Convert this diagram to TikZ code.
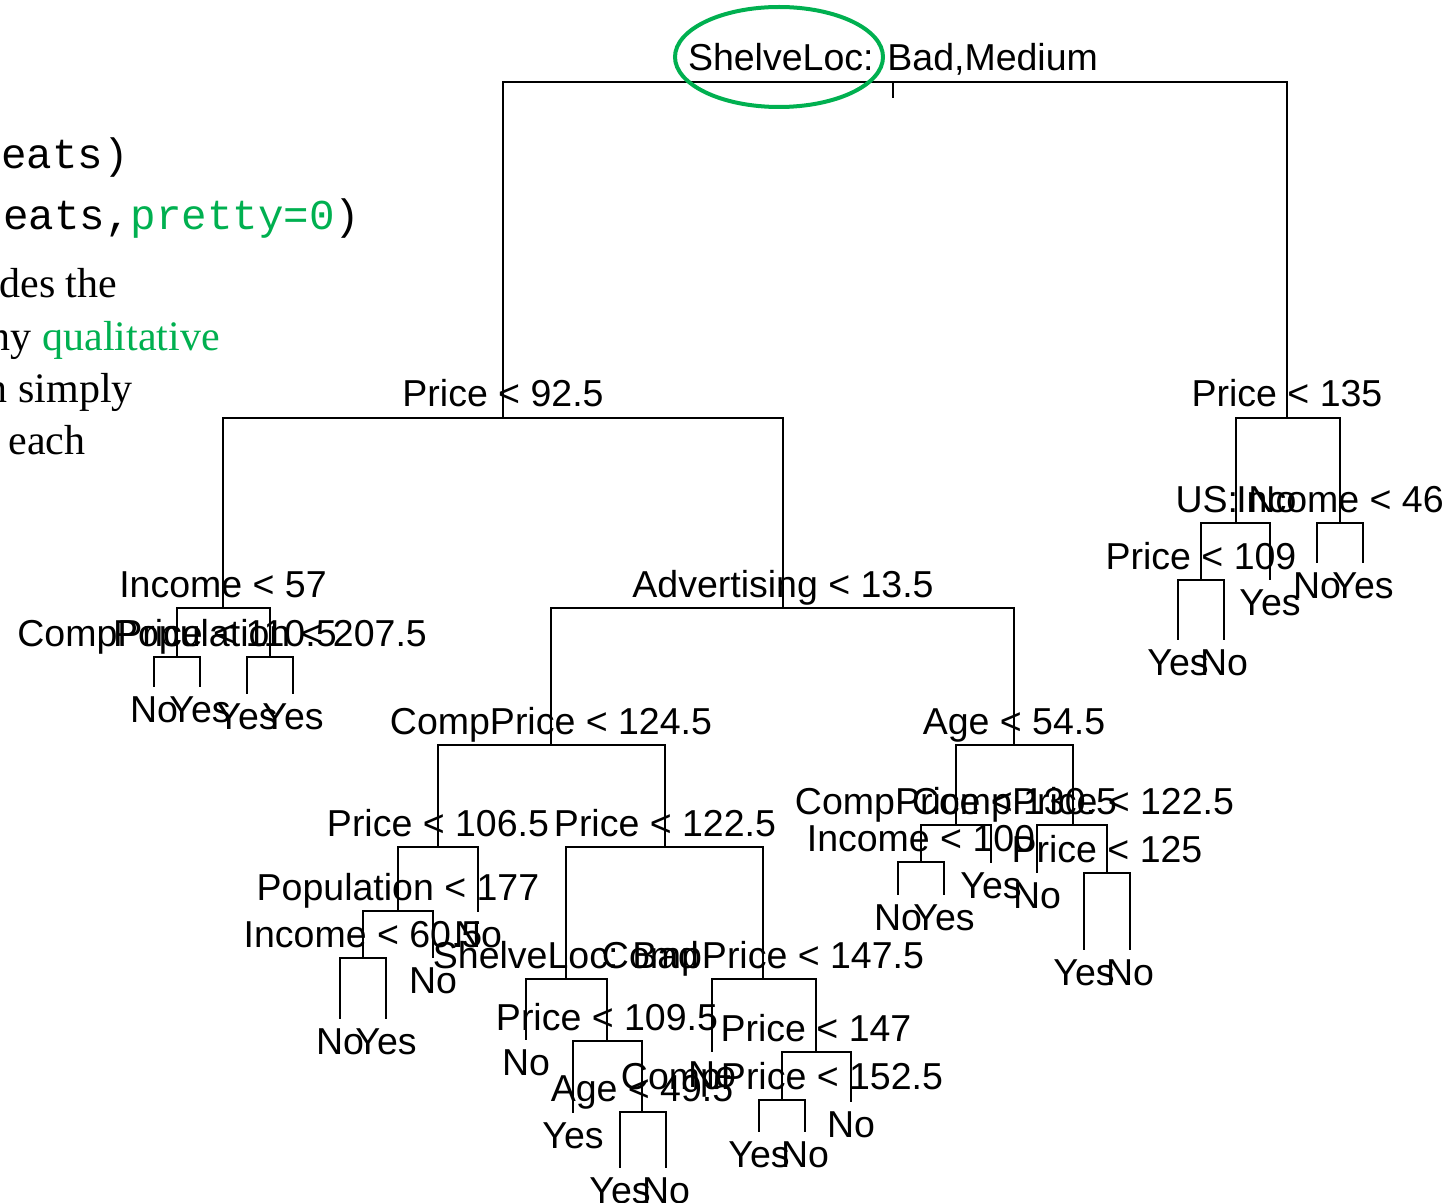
\documentclass[tikz,border=0pt]{standalone}
\usepackage{fontspec}
\setmainfont{Liberation Serif}
\setsansfont{Liberation Sans}
\setmonofont{Liberation Mono}
\usetikzlibrary{shapes.geometric}
\definecolor{slidegreen}{HTML}{00B050}
\newcommand\TSplit[4]{\coordinate (#1) at (#2,#3); \node[lab] (#1-t) at (#2,#3-11) {#4};}
\newcommand\TLeaf[4]{\coordinate (#1) at (#2,#3); \node[lab] (#1-t) at (#2,#3+35) {#4};}
\begin{document}
\begin{tikzpicture}[x=0.5pt,y=-0.5pt,
  lab/.style={font=\sffamily\fontsize{18.75pt}{22pt}\selectfont, anchor=base, inner sep=0pt},
  edge/.style={line width=1.45pt, black},
  codetxt/.style={font=\ttfamily\fontsize{21.25pt}{24pt}\selectfont, anchor=base west, inner sep=0pt},
  bodytxt/.style={font=\rmfamily\fontsize{21pt}{24pt}\selectfont, anchor=base west, inner sep=0pt}]
\fill[white] (0,0) rectangle (1456,1203);
\useasboundingbox (0,0) rectangle (1456,1203);

% slide text fragments
\node[codetxt] (c1) at (1,169) {eats)};
\node[codetxt] (c2) at (3,230) {eats,\textcolor{slidegreen}{pretty=0})};
\node[bodytxt] (t1) at (-1,298) {des the};
\node[bodytxt] (t2) at (-10.5,351) {ny \textcolor{slidegreen}{qualitative}};
\node[bodytxt] (t3) at (-13.5,403) {n simply};
\node[bodytxt] (t4) at (8,454) {each};

% tree nodes
\coordinate (rs) at (893,98);
\TSplit{r}{893}{82}{ShelveLoc: Bad,Medium}
\TSplit{a}{503}{418}{Price < 92.5}
\TSplit{b}{1287}{418}{Price < 135}
\TSplit{aa}{223}{608}{Income < 57}
\TSplit{ab}{783}{608}{Advertising < 13.5}
\TSplit{aaa}{177}{657}{CompPrice < 110.5}
\TSplit{aab}{270}{657}{Population < 207.5}
\TLeaf{l1}{154}{687}{No}
\TLeaf{l2}{200}{687}{Yes}
\TLeaf{l3}{247}{694}{Yes}
\TLeaf{l4}{293}{694}{Yes}
\TSplit{aba}{551}{745}{CompPrice < 124.5}
\TSplit{abb}{1014}{745}{Age < 54.5}
\TSplit{abaa}{438}{847}{Price < 106.5}
\TSplit{abab}{665}{847}{Price < 122.5}
\TSplit{abaaa}{398}{911}{Population < 177}
\TLeaf{l5}{478}{912}{No}
\TSplit{abaaaa}{363}{958}{Income < 60.5}
\TLeaf{l6}{433}{958}{No}
\TLeaf{l7}{340}{1019}{No}
\TLeaf{l8}{386}{1019}{Yes}
\TSplit{ababa}{566}{979}{ShelveLoc: Bad}
\TSplit{ababb}{763}{979}{CompPrice < 147.5}
\TLeaf{l9}{526}{1040}{No}
\TSplit{ababab}{607}{1041}{Price < 109.5}
\TLeaf{l10}{573}{1113}{Yes}
\TSplit{abababb}{642}{1112}{Age < 49.5}
\TLeaf{l11}{620}{1168}{Yes}
\TLeaf{l12}{666}{1168}{No}
\TLeaf{l13}{712}{1052}{No}
\TSplit{ababbb}{816}{1052}{Price < 147}
\TSplit{ababbba}{782}{1100}{CompPrice < 152.5}
\TLeaf{l14}{851}{1102}{No}
\TLeaf{l15}{759}{1132}{Yes}
\TLeaf{l16}{805}{1132}{No}
\TSplit{abba}{956}{825}{CompPrice < 130.5}
\TSplit{abbb}{1073}{825}{CompPrice < 122.5}
\TSplit{abbaa}{921}{862}{Income < 100}
\TLeaf{l17}{991}{863}{Yes}
\TLeaf{l18}{898}{895}{No}
\TLeaf{l19}{944}{895}{Yes}
\TLeaf{l20}{1037}{873}{No}
\TSplit{abbbb}{1107}{873}{Price < 125}
\TLeaf{l21}{1084}{950}{Yes}
\TLeaf{l22}{1130}{950}{No}
\TSplit{ba}{1236}{523}{US: No}
\TSplit{bb}{1340}{523}{Income < 46}
\TSplit{baa}{1201}{580}{Price < 109}
\TLeaf{l23}{1270}{580}{Yes}
\TLeaf{l24}{1178}{640}{Yes}
\TLeaf{l25}{1224}{640}{No}
\TLeaf{l26}{1317}{563}{No}
\TLeaf{l27}{1363}{563}{Yes}

% connectors
\draw[edge] (rs) -- (r);
\foreach \p/\c in {r/a, r/b, a/aa, a/ab, aa/aaa, aa/aab, aaa/l1, aaa/l2, aab/l3, aab/l4,
  ab/aba, ab/abb, aba/abaa, aba/abab, abaa/abaaa, abaa/l5, abaaa/abaaaa, abaaa/l6,
  abaaaa/l7, abaaaa/l8, abab/ababa, abab/ababb, ababa/l9, ababa/ababab, ababab/l10,
  ababab/abababb, abababb/l11, abababb/l12, ababb/l13, ababb/ababbb, ababbb/ababbba,
  ababbb/l14, ababbba/l15, ababbba/l16, abb/abba, abb/abbb, abba/abbaa, abba/l17,
  abbaa/l18, abbaa/l19, abbb/l20, abbb/abbbb, abbbb/l21, abbbb/l22,
  b/ba, b/bb, ba/baa, ba/l23, baa/l24, baa/l25, bb/l26, bb/l27}
  \draw[edge] (\p) -| (\c);

% highlight
\node[draw=slidegreen, line width=2pt, ellipse, minimum width=104pt, minimum height=50pt, inner sep=0pt] (hl) at (779,57) {};
\end{tikzpicture}
\end{document}
